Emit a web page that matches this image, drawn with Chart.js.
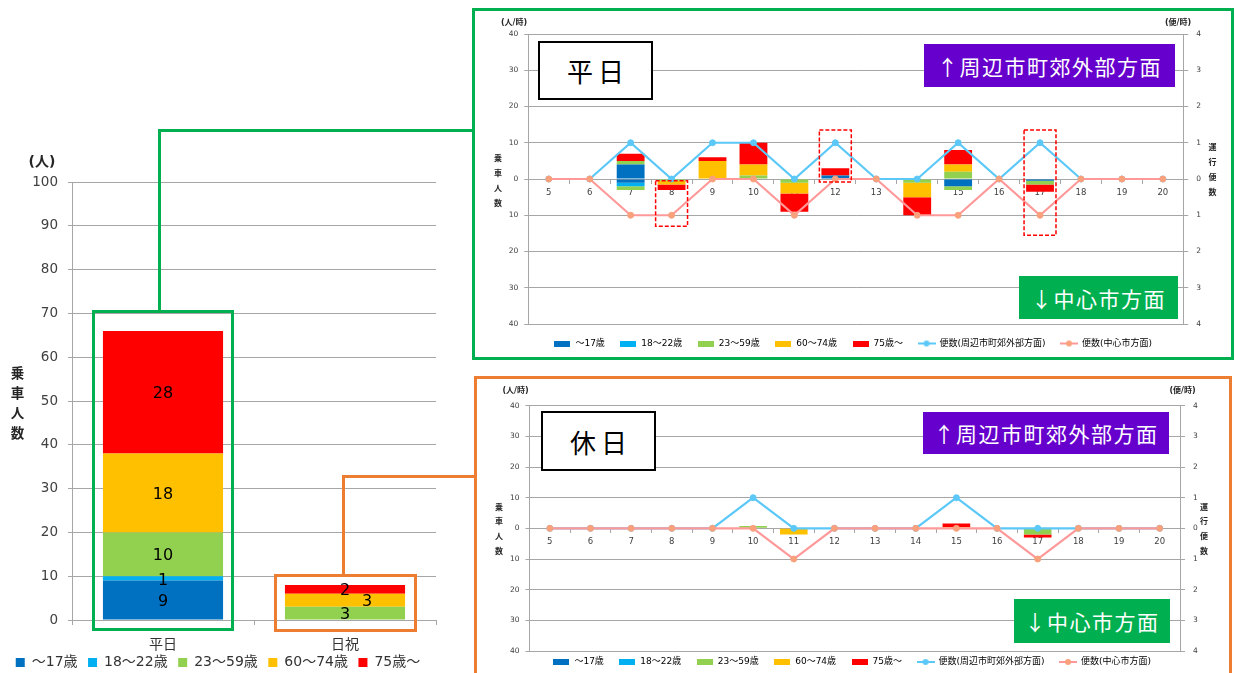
<!DOCTYPE html>
<html lang="ja">
<head>
<meta charset="utf-8">
<title>時間帯別乗車人数</title>
<script src="https://cdn.jsdelivr.net/npm/chart.js@4.4.1/dist/chart.umd.min.js"></script>
<style>
  html, body { margin: 0; padding: 0; background: #fff; overflow: hidden; }
  body { position: relative; width: 1235px; height: 673px; font-family: 'DejaVu Sans', 'Noto Sans CJK JP', sans-serif; }
  canvas { position: absolute; }
  .frame { position: absolute; box-sizing: border-box; border: 3px solid; }
  .wire { position: absolute; }
  .lbl { position: absolute; transform: translate(-50%, -50%); white-space: nowrap; color: #262626; font-weight: bold; }
  .vert { position: absolute; transform: translateX(-50%); width: 1.4em; text-align: center; font-weight: bold; color: #262626; }
  .tag { position: absolute; box-sizing: border-box; display: flex; align-items: center; justify-content: center;
         font-family: 'Noto Sans CJK JP', sans-serif; white-space: nowrap; }
  .tag.day { background: #fff; border: 2px solid #000; color: #000; font-size: 26px; letter-spacing: 5px; padding-left: 5px; }
  .tag.out { background: #6600CC; color: #fff; font-size: 21px; letter-spacing: 1.5px; }
  .tag.in { background: #00B050; color: #fff; font-size: 21px; letter-spacing: 1.5px; }
</style>
</head>
<body>
<canvas id="totalChart" width="445" height="555" style="left:0;top:140px"></canvas>
<canvas id="weekdayChart" width="754" height="346" style="left:476px;top:12px"></canvas>
<canvas id="holidayChart" width="750" height="305" style="left:477px;top:380px"></canvas>

<!-- 枠と引き出し線 -->
<div class="frame" style="left:472px;top:8px;width:762px;height:352px;border-color:#00B050"></div>
<div class="frame" style="left:474px;top:376px;width:758px;height:320px;border-color:#ED7D31"></div>
<div class="frame" style="left:92px;top:310px;width:142px;height:321px;border-color:#00B050"></div>
<div class="frame" style="left:274px;top:574px;width:143px;height:58px;border-color:#ED7D31"></div>
<div class="wire" style="left:158px;top:129px;width:3px;height:182px;background:#00B050"></div>
<div class="wire" style="left:158px;top:129px;width:315px;height:3px;background:#00B050"></div>
<div class="wire" style="left:342px;top:475px;width:3px;height:100px;background:#ED7D31"></div>
<div class="wire" style="left:342px;top:475px;width:133px;height:3px;background:#ED7D31"></div>

<!-- 軸タイトル -->
<div class="lbl" style="left:42px;top:160px;font-size:14px">(人)</div>
<div class="vert" style="left:17.5px;top:363px;font-size:13.5px;line-height:20px">乗<br>車<br>人<br>数</div>

<div class="lbl" style="left:514px;top:21px;font-size:8px">(人/時)</div>
<div class="lbl" style="left:1178px;top:21px;font-size:8px">(便/時)</div>
<div class="vert" style="left:498px;top:150.5px;font-size:8px;line-height:15px">乗<br>車<br>人<br>数</div>
<div class="vert" style="left:1212.5px;top:139.5px;font-size:8px;line-height:15px">運<br>行<br>便<br>数</div>

<div class="lbl" style="left:515.5px;top:389px;font-size:8px">(人/時)</div>
<div class="lbl" style="left:1182.5px;top:389px;font-size:8px">(便/時)</div>
<div class="vert" style="left:499px;top:500.7px;font-size:8px;line-height:14.7px">乗<br>車<br>人<br>数</div>
<div class="vert" style="left:1204px;top:500.7px;font-size:8px;line-height:14.7px">運<br>行<br>便<br>数</div>

<!-- 注記ボックス -->
<div class="tag day" style="left:538px;top:41px;width:115px;height:59px">平日</div>
<div class="tag out" style="left:924px;top:44px;width:251px;height:43px">↑周辺市町郊外部方面</div>
<div class="tag in" style="left:1019px;top:276px;width:159px;height:43px">↓中心市方面</div>

<div class="tag day" style="left:541px;top:411px;width:115px;height:60px">休日</div>
<div class="tag out" style="left:923px;top:412px;width:246px;height:42px">↑周辺市町郊外部方面</div>
<div class="tag in" style="left:1014px;top:599px;width:156px;height:44px">↓中心市方面</div>

<script>
// 共通
const hours = ['5', '6', '7', '8', '9', '10', '11', '12', '13', '14', '15', '16', '17', '18', '19', '20'];
const ageGroups = ['～17歳', '18～22歳', '23～59歳', '60～74歳', '75歳～'];
const ageColors = ['#0070C0', '#00B0F0', '#92D050', '#FFC000', '#FF0000'];
const tripNames = ['便数(周辺市町郊外部方面)', '便数(中心市方面)'];

// 左: 乗車人数合計
const dayTypes = ['平日', '日祝'];
const totalU17 = [9, 0];
const total18to22 = [1, 0];
const total23to59 = [10, 3];
const total60to74 = [18, 3];
const total75over = [28, 2];

// 平日 周辺市町郊外部方面（上向き）
const wdOutU17 = [0, 0, 4, 0, 0, 0, 0, 1, 0, 0, 0, 0, 0, 0, 0, 0];
const wdOut18 = [0, 0, 0, 0, 0, 0, 0, 0, 0, 0, 0, 0, 0, 0, 0, 0];
const wdOut23 = [0, 0, 1, 0, 0, 1, 0, 0, 0, 0, 2, 0, 0, 0, 0, 0];
const wdOut60 = [0, 0, 0, 0, 5, 3, 0, 0, 0, 0, 2, 0, 0, 0, 0, 0];
const wdOut75 = [0, 0, 2, 0, 1, 6, 0, 2, 0, 0, 4, 0, 0, 0, 0, 0];
// 平日 中心市方面（下向き）
const wdInU17 = [0, 0, 1, 0, 0, 0, 0, 0, 0, 0, 2, 0, 0.5, 0, 0, 0];
const wdIn18 = [0, 0, 1, 0, 0, 0, 0, 0, 0, 0, 0, 0, 0, 0, 0, 0];
const wdIn23 = [0, 0, 1, 0.5, 0, 0, 1, 0, 0, 1, 1, 0, 1, 0, 0, 0];
const wdIn60 = [0, 0, 0, 1, 0, 0, 3, 0, 0, 4, 0, 0, 0, 0, 0, 0];
const wdIn75 = [0, 0, 0, 1.5, 0, 0, 5, 0, 0, 5, 0, 0, 2, 0, 0, 0];
const wdTripsOut = [0, 0, 1, 0, 1, 1, 0, 1, 0, 0, 1, 0, 1, 0, 0, 0];
const wdTripsIn = [0, 0, 1, 1, 0, 0, 1, 0, 0, 1, 1, 0, 1, 0, 0, 0];

// 休日
const hdOutU17 = [0, 0, 0, 0, 0, 0, 0, 0, 0, 0, 0, 0, 0, 0, 0, 0];
const hdOut18 = [0, 0, 0, 0, 0, 0, 0, 0, 0, 0, 0, 0, 0, 0, 0, 0];
const hdOut23 = [0, 0, 0, 0, 0, 0.8, 0, 0, 0, 0, 0, 0, 0, 0, 0, 0];
const hdOut60 = [0, 0, 0, 0, 0, 0, 0, 0, 0, 0, 0.4, 0, 0, 0, 0, 0];
const hdOut75 = [0, 0, 0, 0, 0, 0, 0, 0, 0, 0, 1.2, 0, 0, 0, 0, 0];
const hdInU17 = [0, 0, 0, 0, 0, 0, 0, 0, 0, 0, 0, 0, 0, 0, 0, 0];
const hdIn18 = [0, 0, 0, 0, 0, 0, 0, 0, 0, 0, 0, 0, 0, 0, 0, 0];
const hdIn23 = [0, 0, 0, 0, 0, 0, 0, 0, 0, 0, 0, 0, 2, 0, 0, 0];
const hdIn60 = [0, 0, 0, 0, 0, 0, 2, 0, 0, 0, 0, 0, 0, 0, 0, 0];
const hdIn75 = [0, 0, 0, 0, 0, 0, 0, 0, 0, 0, 0, 0, 1, 0, 0, 0];
const hdTripsOut = [0, 0, 0, 0, 0, 1, 0, 0, 0, 0, 1, 0, 0, 0, 0, 0];
const hdTripsIn = [0, 0, 0, 0, 0, 0, 1, 0, 0, 0, 0, 0, 1, 0, 0, 0];

Chart.defaults.font.family = "'DejaVu Sans', 'Noto Sans CJK JP', sans-serif";
Chart.defaults.color = '#404040';

const gridGray = '#A6A6A6';
const outLine = '#5BC8F8';
const inLine = '#FF9999';
const inDot = '#F9A07C';

// 凡例用の小さなアイコン
function legendIcon(color, isLine, dotColor) {
    const c = document.createElement('canvas');
    if (isLine) {
        c.width = 18; c.height = 8;
        const g = c.getContext('2d');
        g.strokeStyle = color; g.lineWidth = 2;
        g.beginPath(); g.moveTo(0, 4); g.lineTo(18, 4); g.stroke();
        g.fillStyle = dotColor;
        g.beginPath(); g.arc(9, 4, 3, 0, Math.PI * 2); g.fill();
    } else {
        c.width = 16; c.height = 6;
        const g = c.getContext('2d');
        g.fillStyle = color; g.fillRect(0, 0, 16, 6);
    }
    return c;
}

// 赤い点線の囲み
function hourMarks(boxes) {
    return {
        id: 'hourMarks',
        afterDatasetsDraw(chart) {
            const { ctx, scales: { x, y } } = chart;
            const w = (x.getPixelForValue(1) - x.getPixelForValue(0)) * 0.78;
            ctx.save();
            ctx.strokeStyle = '#FF0000';
            ctx.lineWidth = 1.5;
            ctx.setLineDash([4, 2]);
            boxes.forEach(b => {
                const cx = x.getPixelForValue(hours.indexOf(b.hour));
                const y1 = y.getPixelForValue(b.from);
                const y2 = y.getPixelForValue(b.to);
                ctx.strokeRect(cx - w / 2, y1, w, y2 - y1);
            });
            ctx.restore();
        }
    };
}

function legendNudge(dy) {
    return {
        id: 'legendNudge',
        afterLayout(chart) {
            if (chart.legend && dy) {
                chart.legend.top += dy;
                chart.legend.bottom += dy;
            }
        }
    };
}

function barSet(label, data, color) {
    return { type: 'bar', label, data, backgroundColor: color, borderWidth: 0,
             stack: 'p', yAxisID: 'y', order: 2, barPercentage: 0.68, categoryPercentage: 1 };
}

function lineSet(label, data, color, dot, order) {
    return { type: 'line', label, data, yAxisID: 'y1', order,
             borderColor: color, backgroundColor: color, borderWidth: 2.2,
             pointRadius: 3, pointBackgroundColor: dot, pointBorderColor: dot, pointBorderWidth: 1 };
}

function makeHourChart(id, outSets, inSets, tripsOut, tripsIn, cfg) {
    const datasets = [];
    outSets.forEach((arr, i) => datasets.push(barSet(ageGroups[i], arr, ageColors[i])));
    inSets.forEach((arr, i) => datasets.push(barSet(ageGroups[i], arr.map(v => -v), ageColors[i])));
    datasets.push(lineSet(tripNames[0], tripsOut, outLine, outLine, 1));
    datasets.push(lineSet(tripNames[1], tripsIn.map(v => -v), inLine, inDot, 0));

    const names = ageGroups.concat(tripNames);
    const icons = ageColors.map(c => legendIcon(c))
        .concat([legendIcon(outLine, true, outLine), legendIcon(inLine, true, inDot)]);

    return new Chart(document.getElementById(id), {
        type: 'bar',
        data: { labels: hours, datasets },
        plugins: [hourMarks(cfg.boxes || []), legendNudge(cfg.legendDy || 0)],
        options: {
            responsive: false,
            animation: false,
            events: [],
            layout: { padding: { top: cfg.top, bottom: 0, left: 0, right: 0 } },
            plugins: {
                tooltip: { enabled: false },
                legend: {
                    position: 'bottom',
                    labels: {
                        usePointStyle: true,
                        pointStyleWidth: 17,
                        padding: 15,
                        color: '#595959',
                        font: { size: 9 },
                        generateLabels: () => names.map((text, i) => ({
                            text, pointStyle: icons[i], fillStyle: 'transparent',
                            strokeStyle: 'transparent', lineWidth: 0, hidden: false, datasetIndex: i
                        }))
                    }
                }
            },
            scales: {
                x: {
                    type: 'category',
                    position: { y: 0 },
                    offset: true,
                    stacked: true,
                    grid: { drawOnChartArea: false, offset: true, tickLength: 4, color: gridGray },
                    border: { color: gridGray },
                    ticks: { font: { size: 8.5 }, color: '#404040', padding: 4.4, maxRotation: 0, autoSkip: false }
                },
                y: {
                    position: 'left',
                    min: -40,
                    max: 40,
                    stacked: true,
                    grid: { color: gridGray, tickLength: 4 },
                    border: { color: gridGray },
                    ticks: { stepSize: 10, padding: 6, font: { size: 7.5 }, color: '#404040', callback: v => Math.abs(v) },
                    afterFit: s => { s.width = cfg.axisLeft; }
                },
                y1: {
                    position: 'right',
                    min: -4,
                    max: 4,
                    grid: { drawOnChartArea: false, tickLength: 5, color: gridGray },
                    border: { color: gridGray },
                    ticks: { stepSize: 1, padding: 8, font: { size: 7.5 }, color: '#404040', callback: v => Math.abs(v) },
                    afterFit: s => { s.width = cfg.axisRight; }
                }
            }
        }
    });
}

// 積み上げの中に数値を書く
const segmentLabels = {
    id: 'segmentLabels',
    afterDatasetsDraw(chart) {
        const { ctx } = chart;
        ctx.save();
        ctx.font = "16px 'DejaVu Sans', sans-serif";
        ctx.fillStyle = '#000';
        ctx.textAlign = 'center';
        ctx.textBaseline = 'middle';
        chart.data.datasets.forEach((ds, di) => {
            chart.getDatasetMeta(di).data.forEach((bar, i) => {
                const v = ds.data[i];
                if (!v) return;
                // 日祝の60～74歳は重なるので右にずらす
                const nudge = (di === 3 && i === 1) ? 22 : 0;
                ctx.fillText(String(v), bar.x + nudge, (bar.y + bar.base) / 2 + 2);
            });
        });
        ctx.restore();
    }
};

const totals = [totalU17, total18to22, total23to59, total60to74, total75over];

new Chart(document.getElementById('totalChart'), {
    type: 'bar',
    data: {
        labels: dayTypes,
        datasets: totals.map((arr, i) => ({
            label: ageGroups[i], data: arr, backgroundColor: ageColors[i],
            borderWidth: 0, barPercentage: 0.66, categoryPercentage: 1
        }))
    },
    plugins: [segmentLabels, legendNudge(-15)],
    options: {
        responsive: false,
        animation: false,
        events: [],
        layout: { padding: { top: 42, right: 9, bottom: 0.5, left: 0 } },
        plugins: {
            tooltip: { enabled: false },
            legend: {
                position: 'bottom',
                labels: { boxWidth: 9, boxHeight: 9, padding: 10.5, color: '#333', font: { size: 14 } }
            }
        },
        scales: {
            x: {
                stacked: true,
                grid: { drawOnChartArea: false, tickLength: 5, color: gridGray },
                border: { color: gridGray },
                ticks: { font: { size: 14 }, color: '#333', padding: 11.6 },
                afterFit: s => { s.height = 40; }
            },
            y: {
                stacked: true,
                min: 0,
                max: 100,
                grid: { color: gridGray, tickLength: 4 },
                border: { color: gridGray },
                ticks: { stepSize: 10, padding: 10, font: { size: 13.5 }, color: '#404040' },
                afterFit: s => { s.width = 72; }
            }
        }
    }
});

makeHourChart('weekdayChart',
    [wdOutU17, wdOut18, wdOut23, wdOut60, wdOut75],
    [wdInU17, wdIn18, wdIn23, wdIn60, wdIn75],
    wdTripsOut, wdTripsIn,
    {
        axisLeft: 52.3, axisRight: 46.7, top: 22,
        boxes: [
            { hour: '8', from: -0.5, to: -13 },
            { hour: '12', from: 13.5, to: -0.8 },
            { hour: '17', from: 13.5, to: -15.5 }
        ]
    });

makeHourChart('holidayChart',
    [hdOutU17, hdOut18, hdOut23, hdOut60, hdOut75],
    [hdInU17, hdIn18, hdIn23, hdIn60, hdIn75],
    hdTripsOut, hdTripsIn,
    { axisLeft: 52.5, axisRight: 47, top: 25.7, legendDy: -8.5 });
</script>
</body>
</html>
